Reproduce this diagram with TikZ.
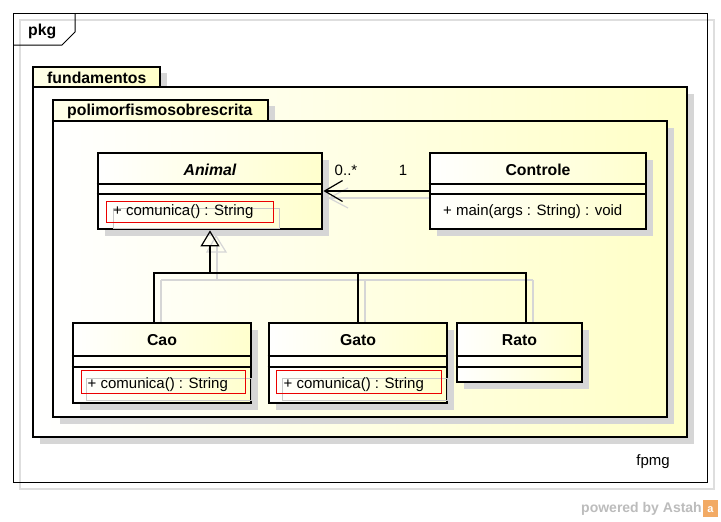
\documentclass[tikz,border=0pt]{standalone}
\usepackage{fontspec}
\setmainfont{Liberation Sans}
\usetikzlibrary{arrows.meta}
\definecolor{pkgyel}{RGB}{255,255,200}
\definecolor{clsyel}{RGB}{255,255,205}
\definecolor{shadowgray}{RGB}{214,214,214}
\definecolor{framegray}{RGB}{222,222,222}
\definecolor{selred}{RGB}{235,0,0}
\definecolor{selgray}{RGB}{200,200,200}
\definecolor{wmgray}{RGB}{188,188,188}
\definecolor{logoorange}{RGB}{242,170,100}
\begin{document}
\begin{tikzpicture}[x=1pt,y=-1pt,
  font=\fontsize{15}{18}\selectfont,
  boldfont/.style={font=\fontsize{15.8}{19}\selectfont\bfseries},
  pkgbody/.style={draw=black, line width=2.6pt, left color=white, right color=pkgyel},
  pkgtab/.style={draw=black, line width=2.6pt, left color=white!60!pkgyel, right color=pkgyel},
  pkgshadow/.style={fill=shadowgray},
  cls/.style={draw=black, line width=2.8pt, left color=white, right color=clsyel, inner sep=0pt},
  clsshadow/.style={fill=shadowgray},
  compline/.style={draw=black, line width=1.2pt},
  clsname/.style={boldfont, inner sep=0pt},
  optext/.style={anchor=west, inner sep=0pt},
  selbox/.style={draw=selred, line width=0.9pt},
  selshadow/.style={draw=selgray, line width=0.8pt},
  link/.style={draw=black, line width=1.4pt},
  linkshadow/.style={draw=shadowgray, line width=1.4pt},
  mult/.style={inner sep=0pt, font=\fontsize{15}{18}\selectfont},
]
\useasboundingbox (0,0) rectangle (721,522);
\fill[white] (0,0) rectangle (721,522);

% outer frame with shadow outline
\draw[framegray, line width=1.2pt] (20,20) rectangle (714,489);
\draw[black, line width=1pt] (13,13) rectangle (707,482);
\draw[black, line width=1pt] (13,45) -- (62,45) -- (75,32) -- (75,13);
\node[anchor=west, inner sep=0pt, boldfont] (pkg) at (28,31) {pkg};

% package fundamentos
\fill[pkgshadow] (40,94) rectangle (694,444);
\fill[pkgshadow] (160,73) rectangle (167,94);
\path[pkgbody] (33,87) rectangle (687,437);
\path[pkgtab] (33,67) rectangle (160,87);
\node[anchor=west, inner sep=0pt, boldfont] (fund) at (47,77.5) {fundamentos};

% package polimorfismosobrescrita
\fill[pkgshadow] (60,128) rectangle (674,424);
\fill[pkgshadow] (268,106) rectangle (275,128);
\path[pkgbody] (53,121) rectangle (667,417);
\path[pkgtab] (53,100) rectangle (268,121);
\node[anchor=west, inner sep=0pt, boldfont] (poli) at (67,111) {polimorfismosobrescrita};

% shadows of connectors
\draw[linkshadow] (217,245) -- (217,280);
\draw[linkshadow] (161,280) -- (533,280);
\draw[linkshadow] (161,280) -- (161,330);
\draw[linkshadow] (365,280) -- (365,330);
\draw[linkshadow] (533,280) -- (533,330);
\draw[shadowgray, line width=1.2pt] (216,236) -- (207,252) -- (226,252) -- cycle;
\draw[linkshadow] (329,198) -- (437,198);
\draw[shadowgray, line width=1.2pt] (348,188) -- (329,198) -- (348,208);

% class shadows
\fill[clsshadow] (105,160) rectangle (329,236);
\fill[clsshadow] (437,160) rectangle (653,236);
\fill[clsshadow] (80,330) rectangle (258,410);
\fill[clsshadow] (276,330) rectangle (454,410);
\fill[clsshadow] (464,330) rectangle (589,389);

% classes
\node[cls, minimum width=224pt, minimum height=76pt] (animal) at (210,191) {};
\node[cls, minimum width=216pt, minimum height=76pt] (controle) at (538,191) {};
\node[cls, minimum width=178pt, minimum height=80pt] (cao) at (162,363) {};
\node[cls, minimum width=178pt, minimum height=80pt] (gato) at (358,363) {};
\node[cls, minimum width=125pt, minimum height=59pt] (rato) at (519.5,352.5) {};

% compartments
\foreach \c/\a/\b in {animal/184/194, controle/184/194, cao/356/367, gato/356/367, rato/356/367}{
  \draw[compline] (\c.west |- 0,\a) -- (\c.east |- 0,\a);
  \draw[compline] (\c.west |- 0,\b) -- (\c.east |- 0,\b);
}

% class names
\node[clsname, font=\fontsize{15.8}{19}\selectfont\bfseries\itshape] (animalname) at (210,169.5) {Animal};
\node[clsname] (controlename) at (538,169.5) {Controle};
\node[clsname] (caoname) at (162,340) {Cao};
\node[clsname] (gatoname) at (358,340) {Gato};
\node[clsname] (ratoname) at (519.5,340) {Rato};

% operations with selection boxes
\draw[selshadow] (113,208) rectangle (279,228);
\draw[selbox] (106,201) rectangle (273,222);
\node[optext] (animalop) at (113,211.5) {+ comunica() : String};

\draw[selshadow] (86,378) rectangle (251,400);
\draw[selbox] (81,370.5) rectangle (245,393.5);
\node[optext] (caoop) at (87.5,385) {+ comunica() : String};

\draw[selshadow] (282,378) rectangle (447,400);
\draw[selbox] (276,370.5) rectangle (441.5,393.5);
\node[optext] (gatoop) at (283.5,385) {+ comunica() : String};

\node[optext] (controleop) at (443,211.5) {+ main(args : String) : void};

% association
\draw[link, -{Straight Barb[length=18pt, width=21pt, line width=1.2pt]}] (controle.west) -- (animal.east);
\node[mult] (m0) at (346,170) {0..*};
\node[mult] (m1) at (403,170) {1};

% generalization
\coordinate (genjoin) at (210,273);
\draw[link, -{Triangle[open, length=16pt, width=19pt, line width=1.2pt]}] (genjoin) -- (animal.south);
\draw[link] (genjoin) -| ([xshift=-8pt]cao.north);
\draw[link] (genjoin) -| (gato.north);
\draw[link] (genjoin) -| ([xshift=6.5pt]rato.north);

% footer
\node[inner sep=0pt] (fpmg) at (653,462) {fpmg};
\node[anchor=east, inner sep=0pt, text=wmgray, font=\fontsize{14}{16}\selectfont\bfseries] (wm) at (702,509) {powered by Astah};
\fill[logoorange] (703,500) rectangle (718,517);
\node[inner sep=0pt, text=white, font=\fontsize{11}{12}\selectfont\bfseries] (logo) at (710.5,510) {a};
\end{tikzpicture}
\end{document}
